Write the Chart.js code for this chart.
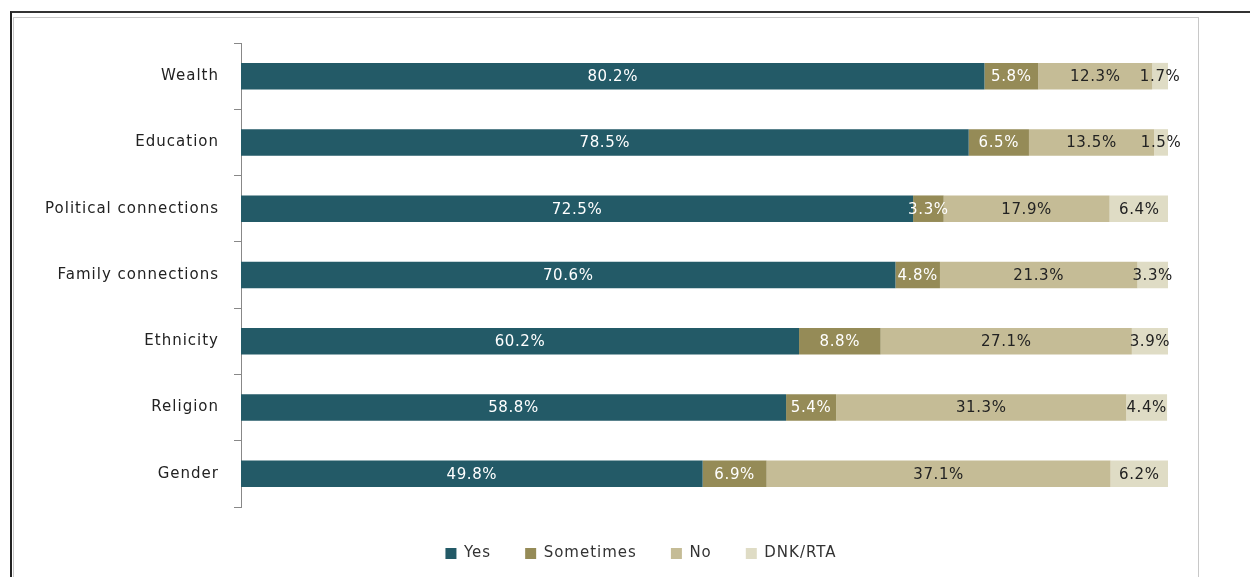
<!DOCTYPE html>
<html lang="en">
<head>
    <meta charset="UTF-8">
    <title>Perceived factors</title>
    <script src="https://cdn.jsdelivr.net/npm/chart.js"></script>
    <style>
        * {
            margin: 0;
            padding: 0;
            box-sizing: border-box;
        }

        body {
            width: 1250px;
            height: 577px;
            background: #fff;
            overflow: hidden;
            position: relative;
        }

        /* frame lines around the chart */
        .frame-outer {
            position: absolute;
            left: 10px;
            top: 11px;
            width: 1250px;
            height: 600px;
            border-left: 2px solid #222;
            border-top: 2px solid #333;
        }

        .frame-inner {
            position: absolute;
            left: 13px;
            top: 17px;
            width: 1186px;
            height: 600px;
            border: 1px solid #c8c8c8;
        }

        .chart-box {
            position: absolute;
            left: 0;
            top: 0;
            width: 1250px;
            height: 577px;
        }
    </style>
</head>
<body>
    <div class="frame-outer"></div>
    <div class="frame-inner"></div>
    <div class="chart-box">
        <canvas id="factors-chart"></canvas>
    </div>

    <script>
        const categories = ['Wealth', 'Education', 'Political connections', 'Family connections', 'Ethnicity', 'Religion', 'Gender'];
        const seriesNames = ['Yes', 'Sometimes', 'No', 'DNK/RTA'];
        const yesValues = [80.2, 78.5, 72.5, 70.6, 60.2, 58.8, 49.8];
        const sometimesValues = [5.8, 6.5, 3.3, 4.8, 8.8, 5.4, 6.9];
        const noValues = [12.3, 13.5, 17.9, 21.3, 27.1, 31.3, 37.1];
        const dnkValues = [1.7, 1.5, 6.4, 3.3, 3.9, 4.4, 6.2];

        const colors = ['#235a67', '#958b57', '#c5bc96', '#dfdcc5'];
        const labelColors = ['#ffffff', '#ffffff', '#222222', '#222222'];

        const FONT = '"DejaVu Sans", Verdana, sans-serif';

        // wide Verdana-like spacing for every text on the canvas
        const spacing = {
            id: 'spacing',
            beforeLayout(chart) { chart.ctx.letterSpacing = '1px'; },
            beforeDraw(chart) { chart.ctx.letterSpacing = '1px'; }
        };

        // writes the value in the middle of every bar segment
        const segmentLabels = {
            id: 'segmentLabels',
            afterDatasetsDraw(chart) {
                const ctx = chart.ctx;
                ctx.save();
                ctx.font = '15px ' + FONT;
                ctx.letterSpacing = '0.6px';
                ctx.textAlign = 'center';
                ctx.textBaseline = 'middle';
                chart.data.datasets.forEach((ds, i) => {
                    const meta = chart.getDatasetMeta(i);
                    meta.data.forEach((bar, j) => {
                        const props = bar.getProps(['x', 'y', 'base'], true);
                        const cx = (props.x + props.base) / 2;
                        ctx.fillStyle = labelColors[i];
                        ctx.fillText(ds.data[j].toFixed(1) + '%', cx, props.y + 1);
                    });
                });
                ctx.restore();
            }
        };

        const valueSets = [yesValues, sometimesValues, noValues, dnkValues];

        new Chart(document.getElementById('factors-chart'), {
            type: 'bar',
            data: {
                labels: categories,
                datasets: seriesNames.map((name, i) => ({
                    label: name,
                    data: valueSets[i],
                    backgroundColor: colors[i],
                    borderWidth: 0,
                    barPercentage: 0.4,
                    categoryPercentage: 1.0
                }))
            },
            options: {
                indexAxis: 'y',
                responsive: true,
                maintainAspectRatio: false,
                animation: false,
                layout: {
                    // negative right side moves the centred legend a bit to the right
                    padding: { top: 43, right: -32, bottom: 6, left: 0 }
                },
                plugins: {
                    tooltip: { enabled: false },
                    legend: {
                        position: 'bottom',
                        labels: {
                            boxWidth: 11,
                            boxHeight: 11,
                            padding: 34,
                            color: '#333',
                            font: { family: FONT, size: 15 }
                        }
                    }
                },
                scales: {
                    x: {
                        stacked: true,
                        min: 0,
                        max: 100,
                        // kept only as empty room below the bars
                        afterFit(scale) {
                            scale.height = 5;
                        },
                        grid: { display: false },
                        border: { display: false },
                        ticks: { display: false }
                    },
                    y: {
                        stacked: true,
                        afterFit(scale) {
                            scale.width = 241;
                        },
                        grid: {
                            display: true,
                            drawOnChartArea: false,
                            offset: true,
                            tickLength: 7,
                            color: '#888'
                        },
                        border: { display: true, color: '#888', width: 1 },
                        ticks: {
                            padding: 15,
                            color: '#222',
                            font: { family: FONT, size: 15 }
                        }
                    },
                    // empty strip on the right of the bars
                    yRight: {
                        type: 'category',
                        axis: 'y',
                        position: 'right',
                        afterFit(scale) {
                            scale.width = 114;
                        },
                        grid: { display: false },
                        border: { display: false },
                        ticks: { display: false }
                    }
                }
            },
            plugins: [spacing, segmentLabels]
        });
    </script>
</body>
</html>
